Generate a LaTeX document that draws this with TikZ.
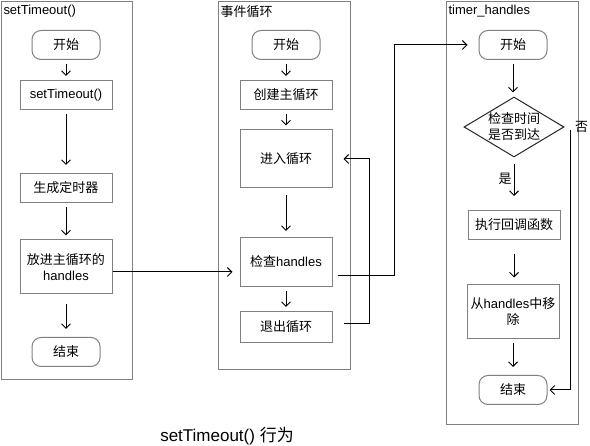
\documentclass[tikz,border=0pt]{standalone}
\usepackage{fontspec}
\setmainfont{Liberation Sans}
\newfontfamily\cjk{Noto Sans CJK SC}
\usetikzlibrary{shapes.geometric,positioning,arrows.meta}
\definecolor{boxgray}{RGB}{128,128,128}
\newcommand{\boxfont}{\fontsize{13}{16}\selectfont}
\tikzset{
	panel/.style={draw=boxgray, anchor=north west, inner sep=0pt},
	title/.style={anchor=north west, inner sep=1pt, font=\boxfont},
	proc/.style={draw=boxgray, minimum width=92pt, minimum height=29pt,
		inner sep=2pt, align=center, font=\boxfont},
	term/.style={proc, rounded corners=9pt, minimum width=68pt},
	decide/.style={diamond, draw=black!85, aspect=1.67, inner sep=0pt,
		minimum width=100pt, minimum height=60pt, align=center, font=\boxfont},
	flow/.style={->, line width=1pt, shorten <=4pt, shorten >=4pt},
	wire/.style={->, line width=1pt}
}
\begin{document}
\begin{tikzpicture}[x=1pt,y=-1pt,line width=1pt,
	>={Straight Barb[length=4.5pt,width=9pt,line width=1pt]}]
\useasboundingbox (0,0) rectangle (590,446);
% three lanes
\node[panel, minimum width=131pt, minimum height=378pt] (p1) at (1,1) {};
\node[panel, minimum width=132pt, minimum height=368pt] (p2) at (218,1) {};
\node[panel, minimum width=132pt, minimum height=423pt] (p3) at (446,1) {};
\node[title] (t1) at ([shift={(1pt,-3pt)}]p1.north west) {setTimeout()};
\node[title] (t2) at ([shift={(1pt,-3pt)}]p2.north west) {\cjk 事件循环};
\node[title] (t3) at ([shift={(1pt,-3pt)}]p3.north west) {timer\_handles};
% setTimeout()
\node[term] (s1) at (66,45) {\cjk 开始};
\node[proc] (set) at (66,95) {setTimeout()};
\node[proc] (gen) at (66,188) {\cjk 生成定时器};
\node[proc, minimum height=54pt] (put) at (66,267) {{\cjk 放进主循环的}\\handles};
\node[term] (e1) at (66,352) {\cjk 结束};
\draw[flow] (s1) -- (set);
\draw[flow, shorten >=8pt] (set) -- (gen);
\draw[flow] (gen) -- (put);
\draw[flow, shorten <=10pt, shorten >=8pt] (put) -- (e1);
% event loop
\node[term] (s2) at (286,45) {\cjk 开始};
\node[proc] (create) at (286,95) {\cjk 创建主循环};
\node[proc, minimum height=58pt] (enter) at (286,159) {\cjk 进入循环};
\node[proc, minimum height=49pt] (check) at (286,262) {{\cjk 检查}handles};
\node[proc, minimum height=31pt] (quit) at (286,327) {\cjk 退出循环};
\draw[flow] (s2) -- (create);
\draw[flow] (create) -- (enter);
\draw[flow, shorten <=7pt, shorten >=6pt] (enter) -- (check);
\draw[flow] (check) -- (quit);
% timer_handles
\node[term] (s3) at (513,45) {\cjk 开始};
\node[decide] (due) at (514,127) {{\cjk 检查时间}\\{\cjk 是否到达}};
\node[proc] (run) at (514,225) {\cjk 执行回调函数};
\node[proc, minimum height=54pt] (remove) at (513,312) {{\cjk 从}handles{\cjk 中移}\\{\cjk 除}};
\node[term] (e3) at (513,390) {\cjk 结束};
\draw[flow] (s3) -- (s3 |- due.north);
\draw[flow, shorten <=6pt, shorten >=14pt] (due) -- (run)
	node[pos=0.4, left, font=\boxfont, inner sep=2pt] (yes) {\cjk 是};
\draw[flow, shorten <=14pt, shorten >=7pt] (run) -- (run |- remove.north);
\draw[flow, shorten >=8pt] (remove) -- (e3);
\draw[wire, shorten >=2pt] ([shift={(6pt,-3pt)}]due.east) |- (e3.east);
\node[font=\boxfont, inner sep=1pt, right=9pt of due.east] (no) {\cjk 否};
% links between lanes
\draw[wire, shorten >=7pt] ([yshift=-5pt]put.east) -- ([yshift=-10pt]check.west);
\draw[wire] ([shift={(5pt,-14pt)}]check.east) -| ([xshift=-84pt]s3.west)
	-- ([xshift=-11pt]s3.west);
\draw[wire] ([shift={(11pt,3pt)}]quit.east) -| ([xshift=37pt]enter.east)
	-- ([xshift=11pt]enter.east);
% caption
\node[font=\fontsize{17}{20}\selectfont, inner sep=0pt] (cap) at (227,436)
	{setTimeout() {\cjk 行为}};
\end{tikzpicture}
\end{document}
